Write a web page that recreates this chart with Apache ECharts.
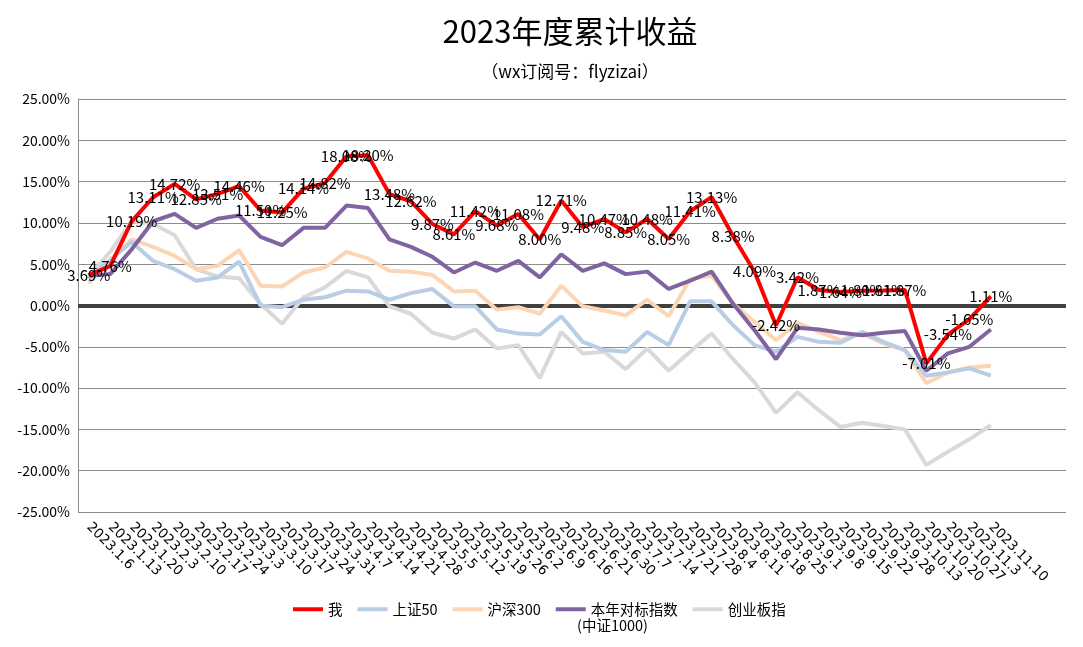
<!DOCTYPE html>
<html><head><meta charset="utf-8">
<script src="https://cdn.jsdelivr.net/npm/echarts/dist/echarts.min.js"></script>
<style>html,body{margin:0;padding:0;background:#fff}#c{width:1083px;height:647px}</style>
</head><body><div id="c"></div>
<script>
const dates = ['2023.1.6','2023.1.13','2023.1.20','2023.2.3','2023.2.10','2023.2.17','2023.2.24','2023.3.3','2023.3.10','2023.3.17','2023.3.24','2023.3.31','2023.4.7','2023.4.14','2023.4.21','2023.4.28','2023.5.5','2023.5.12','2023.5.19','2023.5.26','2023.6.2','2023.6.9','2023.6.16','2023.6.21','2023.6.30','2023.7.7','2023.7.14','2023.7.21','2023.7.28','2023.8.4','2023.8.11','2023.8.18','2023.8.25','2023.9.1','2023.9.8','2023.9.15','2023.9.22','2023.9.28','2023.10.13','2023.10.20','2023.10.27','2023.11.3','2023.11.10','','',''];
const me = [3.69,4.76,10.19,13.11,14.72,12.85,13.51,14.46,11.50,11.25,14.14,14.82,18.08,18.20,13.48,12.62,9.87,8.61,11.42,9.68,11.08,8.00,12.71,9.48,10.47,8.85,10.48,8.05,11.41,13.13,8.38,4.09,-2.42,3.42,1.87,1.64,1.80,1.81,1.87,-7.01,-3.54,-1.65,1.11];
const sz50 = [3.2,5.5,7.7,5.4,4.4,3.0,3.4,5.3,0.0,-0.2,0.7,1.0,1.8,1.7,0.7,1.5,2.0,-0.1,-0.1,-2.9,-3.4,-3.5,-1.3,-4.4,-5.4,-5.6,-3.2,-4.8,0.5,0.5,-2.4,-4.8,-5.6,-3.8,-4.4,-4.5,-3.2,-4.4,-5.4,-8.5,-8.1,-7.6,-8.5];
const hs300 = [2.7,5.5,8.0,7.1,6.0,4.4,4.8,6.7,2.4,2.3,4.0,4.6,6.5,5.7,4.2,4.1,3.7,1.7,1.8,-0.5,-0.2,-1.0,2.4,-0.1,-0.6,-1.2,0.7,-1.3,3.2,3.6,0.2,-2.0,-4.2,-2.1,-3.2,-4.2,-3.4,-4.6,-5.4,-9.4,-8.1,-7.5,-7.3];
const zz1000 = [3.6,3.8,6.8,10.2,11.1,9.4,10.5,10.9,8.3,7.3,9.4,9.4,12.1,11.8,8.0,7.1,5.9,4.0,5.2,4.2,5.4,3.4,6.2,4.2,5.1,3.8,4.1,2.0,3.0,4.1,0.2,-3.0,-6.5,-2.7,-2.9,-3.3,-3.6,-3.3,-3.1,-7.9,-5.8,-5.0,-2.9];
const cyb = [3.5,6.5,10.2,9.9,8.5,4.4,3.5,3.3,0.2,-2.2,1.0,2.2,4.2,3.4,-0.1,-1.0,-3.3,-4.0,-2.9,-5.2,-4.8,-8.8,-3.2,-5.8,-5.6,-7.7,-5.2,-7.9,-5.6,-3.4,-6.5,-9.3,-13.0,-10.5,-12.7,-14.7,-14.2,-14.6,-15.0,-19.3,-17.7,-16.2,-14.5];
const yTicks = {min:-25, max:25, step:5};
const names = ['我','上证50','沪深300','本年对标指数(中证1000)','创业板指'];
const colors = ['#ff0000','#b9cde5','#fcd5b5','#8064a2','#d9d9d9'];

const font = "'Noto Sans CJK SC','Noto Sans',sans-serif";
const chart = echarts.init(document.getElementById('c'));
function line(name, data, color, z, extra) {
  return Object.assign({
    name, type:'line', data, symbol:'none', z,
    lineStyle:{color, width:4}, itemStyle:{color},
    emphasis:{disabled:true}, animation:false
  }, extra||{});
}
chart.setOption({
  animation:false,
  textStyle:{fontFamily:font},
  title:{
    text:'2023年度累计收益', subtext:'（wx订阅号：flyzizai）',
    left:565, textAlign:'center', top:11, itemGap:16,
    textStyle:{fontSize:31, fontWeight:'normal', color:'#000', fontFamily:font},
    subtextStyle:{fontSize:17, color:'#000', fontFamily:font}
  },
  grid:{left:78, right:17, top:99, bottom:135, containLabel:false},
  legend:{
    data:names.map((n,i)=>({name:n, itemStyle:{color:colors[i], opacity:1}})),
    left:288, top:597, icon:'rect', itemWidth:30, itemHeight:4, itemGap:15,
    textStyle:{fontSize:14.5, color:'#000', fontFamily:font},
    formatter:n=> n==='本年对标指数(中证1000)' ? '本年对标指数' : n
  },
  graphic:[{type:'text', left:577, top:618, style:{text:'(中证1000)', fontSize:14.5, fill:'#000', fontFamily:font}}],
  xAxis:{
    type:'category', data:dates, boundaryGap:true,
    axisLine:{show:false}, axisTick:{show:false},
    axisLabel:{interval:0, rotate:-45, fontSize:13.5, color:'#000', margin:13, fontFamily:"'DejaVu Sans',sans-serif"}
  },
  yAxis:{
    type:'value', min:yTicks.min, max:yTicks.max, interval:yTicks.step,
    axisLine:{show:true, lineStyle:{color:'#8c8c8c', width:1}},
    axisTick:{show:false},
    splitLine:{lineStyle:{color:'#8c8c8c', width:1}},
    axisLabel:{fontSize:14, color:'#000', margin:8, formatter:v=>v.toFixed(2)+'%', fontFamily:font}
  },
  series:[
    line(names[4], cyb, colors[4], 2),
    line(names[2], hs300, colors[2], 3),
    line(names[1], sz50, colors[1], 4),
    line(names[3], zz1000, colors[3], 5, {
      markLine:{silent:true, symbol:'none', label:{show:false},
        lineStyle:{color:'#404040', width:4, type:'solid'}, data:[{yAxis:0}], z:1}
    }),
    line(names[0], me, colors[0], 6, {
      symbol:'circle', symbolSize:2, showSymbol:true, showAllSymbol:true,
      itemStyle:{color:'rgba(255,0,0,0)', borderWidth:0},
      label:{show:true, position:'inside', fontSize:15, color:'#000', fontFamily:font,
        formatter:p=>p.value.toFixed(2)+'%'},
      labelLayout:{hideOverlap:false}
    })
  ]
});
</script>
</body></html>
